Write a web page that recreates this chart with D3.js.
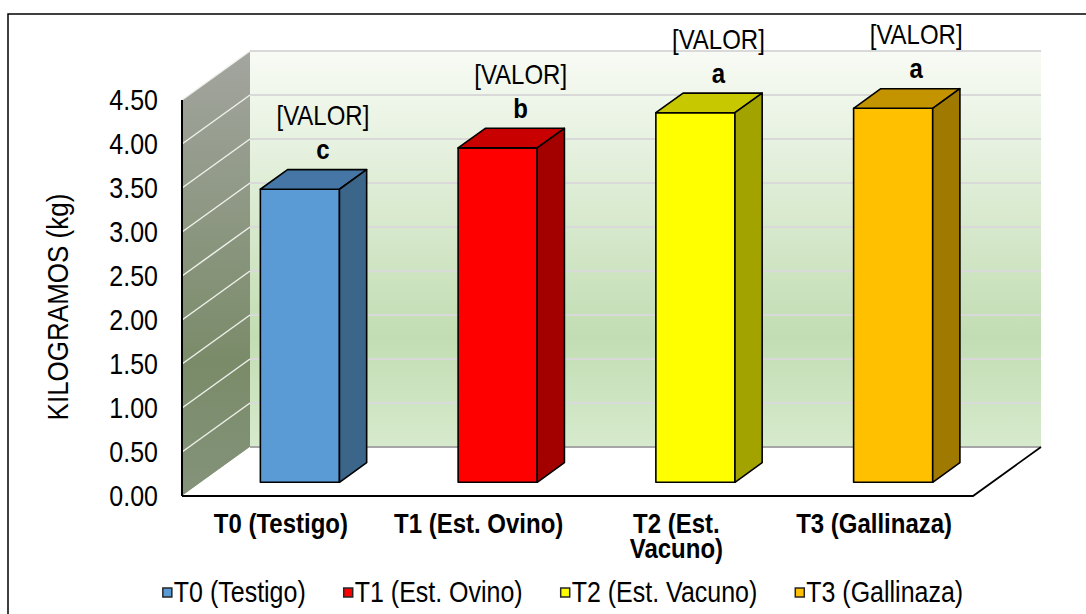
<!DOCTYPE html>
<html lang="es">
<head>
    <meta charset="UTF-8">
    <title>Kilogramos por tratamiento</title>
    <script src="https://d3js.org/d3.v7.min.js"></script>
    <style>
        body {
            margin: 0;
            background: #ffffff;
            overflow: hidden;
        }
        text {
            font-family: "Liberation Sans", Arial, sans-serif;
            fill: #000;
        }
    </style>
</head>
<body>
    <div id="chart"></div>

    <script>
        // Datos
        const categories = ["T0 (Testigo)", "T1 (Est. Ovino)", "T2 (Est. Vacuno)", "T3 (Gallinaza)"];
        const values = [3.33, 3.80, 4.20, 4.25];
        const letters = ["c", "b", "a", "a"];
        const valueLabel = "[VALOR]";
        const yTicks = [0, 0.5, 1, 1.5, 2, 2.5, 3, 3.5, 4, 4.5];
        const axisTitle = "KILOGRAMOS (kg)";

        const frontColors = ["#5b9bd5", "#ff0000", "#ffff00", "#ffc000"];
        const topColors = ["#4676a6", "#c80000", "#c8c800", "#c49300"];
        const sideColors = ["#3b6589", "#a30000", "#a3a300", "#a07900"];

        const width = 1086, height = 614;
        const SY = 1.17; // texto algo estirado en vertical

        const svg = d3.select("#chart").append("svg")
            .attr("width", width)
            .attr("height", height);

        // borde exterior del area del grafico
        svg.append("rect")
            .attr("x", 8).attr("y", 14)
            .attr("width", 1100).attr("height", 620)
            .attr("fill", "none")
            .attr("stroke", "#000")
            .attr("stroke-width", 1.5);

        // geometria 3D (proyeccion oblicua)
        const x0 = 182, x1 = 973;      // plano frontal
        const depthX = 68, depthY = -49; // desplazamiento de profundidad
        const y = d3.scaleLinear().domain([0, 4.5]).range([496, 100]);
        const x = d3.scaleBand().domain(categories).range([x0, x1]).paddingInner(0.6).paddingOuter(0.3);

        // punto a profundidad d (0 = frente, 1 = fondo)
        const P = (px, py, d) => [px + depthX * d, py + depthY * d];
        const poly = pts => "M" + pts.map(p => p.join(",")).join("L") + "Z";

        const defs = svg.append("defs");
        const gBack = defs.append("linearGradient").attr("id", "backGrad")
            .attr("x1", 0).attr("y1", 0).attr("x2", 0).attr("y2", 1);
        gBack.append("stop").attr("offset", "0%").attr("stop-color", "#f8fbf5");
        gBack.append("stop").attr("offset", "72%").attr("stop-color", "#c2ddb3");
        gBack.append("stop").attr("offset", "100%").attr("stop-color", "#d6eacc");

        const gSide = defs.append("linearGradient").attr("id", "sideGrad")
            .attr("x1", 0).attr("y1", 0).attr("x2", 0).attr("y2", 1);
        gSide.append("stop").attr("offset", "0%").attr("stop-color", "#a3a59f");
        gSide.append("stop").attr("offset", "70%").attr("stop-color", "#7a8b69");
        gSide.append("stop").attr("offset", "100%").attr("stop-color", "#84937a");

        const yTop = y(4.5), yBot = y(0);

        // pared del fondo
        const backTL = P(x0, yTop, 1), backBR = P(x1, yBot, 1);
        svg.append("rect")
            .attr("x", backTL[0]).attr("y", backTL[1])
            .attr("width", backBR[0] - backTL[0])
            .attr("height", backBR[1] - backTL[1])
            .attr("fill", "url(#backGrad)");

        // pared lateral
        svg.append("path")
            .attr("d", poly([P(x0, yTop, 0), P(x0, yTop, 1), P(x0, yBot, 1), P(x0, yBot, 0)]))
            .attr("fill", "url(#sideGrad)");

        // lineas de division
        svg.append("g").selectAll("line.back")
            .data(yTicks.slice(1))
            .enter().append("line")
            .attr("x1", P(x0, 0, 1)[0]).attr("x2", P(x1, 0, 1)[0])
            .attr("y1", d => P(0, y(d), 1)[1]).attr("y2", d => P(0, y(d), 1)[1])
            .attr("stroke", "#d9d9d9").attr("stroke-width", 2);

        svg.append("g").selectAll("line.side")
            .data(yTicks.slice(1))
            .enter().append("line")
            .attr("x1", x0).attr("y1", d => y(d))
            .attr("x2", P(x0, 0, 1)[0]).attr("y2", d => P(0, y(d), 1)[1])
            .attr("stroke", "#eef0ea").attr("stroke-width", 1.5);

        // piso
        svg.append("path")
            .attr("d", poly([P(x0, yBot, 0), P(x1, yBot, 0), P(x1, yBot, 1), P(x0, yBot, 1)]))
            .attr("fill", "#fff");
        svg.append("line")
            .attr("x1", backTL[0]).attr("x2", backBR[0])
            .attr("y1", backBR[1]).attr("y2", backBR[1])
            .attr("stroke", "#a6a6a6").attr("stroke-width", 2);
        svg.append("path")
            .attr("d", "M" + [x0, yBot] + "L" + P(x1, yBot, 0) + "L" + P(x1, yBot, 1))
            .attr("fill", "none").attr("stroke", "#000").attr("stroke-width", 1.8);

        // eje vertical
        svg.append("line")
            .attr("x1", x0).attr("x2", x0)
            .attr("y1", yTop).attr("y2", yBot)
            .attr("stroke", "#000").attr("stroke-width", 2);

        function addText(parent, tx, ty, str, size, weight, anchor, sy) {
            return parent.append("text")
                .attr("transform", `translate(${tx},${ty}) scale(1,${sy || SY})`)
                .attr("font-size", size)
                .attr("font-weight", weight || "normal")
                .attr("text-anchor", anchor || "middle")
                .text(str);
        }

        // etiquetas del eje Y
        const gy = svg.append("g");
        yTicks.forEach(t => addText(gy, 158, y(t) + 10, t.toFixed(2), 25, "normal", "end"));

        addText(svg, 0, 0, axisTitle, 26, "normal", "middle", 1.1)
            .attr("transform", "translate(68,307) rotate(-90) scale(1,1.1)");

        // barras
        const d0 = 0.28, d1 = 0.68;
        const bars = svg.append("g");
        categories.forEach((c, i) => {
            const bx0 = x(c), bx1 = x(c) + x.bandwidth();
            const v = values[i];
            const g = bars.append("g");
            // cara frontal
            g.append("path")
                .attr("d", poly([P(bx0, y(v), d0), P(bx1, y(v), d0), P(bx1, yBot, d0), P(bx0, yBot, d0)]))
                .attr("fill", frontColors[i]);
            // cara superior
            g.append("path")
                .attr("d", poly([P(bx0, y(v), d0), P(bx0, y(v), d1), P(bx1, y(v), d1), P(bx1, y(v), d0)]))
                .attr("fill", topColors[i]);
            // cara lateral
            g.append("path")
                .attr("d", poly([P(bx1, y(v), d0), P(bx1, y(v), d1), P(bx1, yBot, d1), P(bx1, yBot, d0)]))
                .attr("fill", sideColors[i]);
            g.selectAll("path")
                .attr("stroke", "#000").attr("stroke-width", 1.6).attr("stroke-linejoin", "round");

            // etiquetas de datos
            const top = P(bx0 + x.bandwidth() / 2, y(v), d0);
            addText(svg, top[0] + 23, top[1] - 30, letters[i], 24, "bold");
            addText(svg, top[0] + 23, top[1] - 64, valueLabel, 24, "normal");
        });

        // etiquetas de categoria (con salto de linea)
        const gx = svg.append("g");
        categories.forEach(c => {
            const cx = x(c) + x.bandwidth() / 2;
            const words = c.split(" ");
            const lines = [];
            let line = "";
            words.forEach(w => {
                const test = line ? line + " " + w : w;
                const t = gx.append("text").attr("font-size", 24).attr("font-weight", "bold").text(test);
                const len = t.node().getComputedTextLength();
                t.remove();
                if (len > 180 && line) {
                    lines.push(line);
                    line = w;
                } else {
                    line = test;
                }
            });
            lines.push(line);
            const t = addText(gx, cx, 533, "", 24, "bold");
            lines.forEach((l, k) => t.append("tspan")
                .attr("x", 0)
                .attr("dy", k === 0 ? 0 : 21)
                .text(l));
        });

        // leyenda
        const legend = svg.append("g");
        let lx = 0;
        categories.forEach((c, i) => {
            const it = legend.append("g");
            it.append("rect")
                .attr("x", 0).attr("y", -14)
                .attr("width", 9).attr("height", 9)
                .attr("fill", frontColors[i])
                .attr("stroke", "#262626").attr("stroke-width", 1.5);
            const t = addText(it, 11, 0, c, 25, "normal", "start");
            const w = 11 + t.node().getComputedTextLength();
            it.attr("transform", `translate(${lx},602)`);
            lx += w + 38;
        });
        const totalW = lx - 38;
        legend.attr("transform", `translate(${563 - totalW / 2},0)`);
    </script>
</body>
</html>
